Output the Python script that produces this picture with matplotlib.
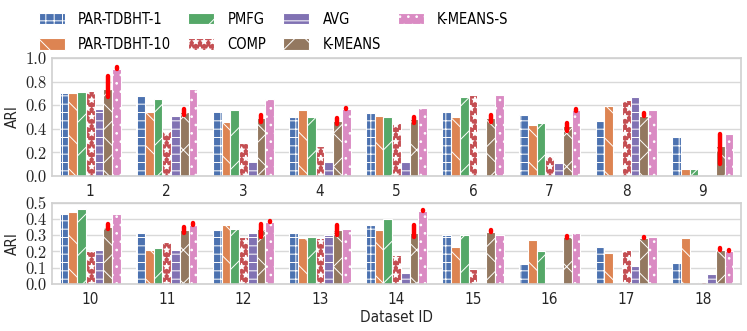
import numpy as np
import matplotlib
matplotlib.use("Agg")
import matplotlib.pyplot as plt
from matplotlib.ticker import FuncFormatter

plt.rcParams['font.family'] = ['DejaVu Sans']
plt.rcParams['font.stretch'] = 'condensed'
plt.rcParams['hatch.color'] = 'white'
plt.rcParams['hatch.linewidth'] = 0.7

methods = ['PAR-TDBHT-1', 'PAR-TDBHT-10', 'PMFG', 'COMP', 'AVG', 'K-MEANS', 'K-MEANS-S']
colors = ['#4C72B0', '#DD8452', '#55A868', '#C44E52', '#8172B3', '#937860', '#DA8BC3']
hatches = ['++', '\\', '/', '**', '--', 'x', '..']

top_ids = ['1', '2', '3', '4', '5', '6', '7', '8', '9']
bot_ids = ['10', '11', '12', '13', '14', '15', '16', '17', '18']

# ARI per method, datasets 1-9
top_vals = {
    'PAR-TDBHT-1':  [0.70, 0.68, 0.55, 0.50, 0.53, 0.54, 0.52, 0.47, 0.33],
    'PAR-TDBHT-10': [0.70, 0.54, 0.46, 0.56, 0.51, 0.50, 0.43, 0.59, 0.06],
    'PMFG':         [0.71, 0.65, 0.56, 0.50, 0.50, 0.67, 0.45, 0.00, 0.06],
    'COMP':         [0.72, 0.38, 0.28, 0.25, 0.45, 0.69, 0.17, 0.64, 0.00],
    'AVG':          [0.57, 0.51, 0.13, 0.12, 0.12, 0.00, 0.11, 0.67, 0.00],
    'K-MEANS':      [0.74, 0.54, 0.49, 0.47, 0.48, 0.49, 0.42, 0.51, 0.25],
    'K-MEANS-S':    [0.91, 0.74, 0.65, 0.57, 0.58, 0.69, 0.56, 0.56, 0.36],
}
# ARI per method, datasets 10-18
bot_vals = {
    'PAR-TDBHT-1':  [0.43, 0.31, 0.33, 0.31, 0.36, 0.30, 0.12, 0.23, 0.13],
    'PAR-TDBHT-10': [0.44, 0.21, 0.36, 0.28, 0.33, 0.23, 0.27, 0.19, 0.28],
    'PMFG':         [0.46, 0.22, 0.34, 0.29, 0.40, 0.30, 0.20, 0.00, 0.00],
    'COMP':         [0.20, 0.26, 0.29, 0.28, 0.18, 0.09, 0.00, 0.21, 0.01],
    'AVG':          [0.21, 0.21, 0.31, 0.30, 0.07, 0.00, 0.00, 0.11, 0.06],
    'K-MEANS':      [0.35, 0.33, 0.34, 0.33, 0.31, 0.32, 0.29, 0.28, 0.21],
    'K-MEANS-S':    [0.43, 0.36, 0.38, 0.34, 0.45, 0.30, 0.31, 0.29, 0.20],
}

# confidence intervals (low, high) for the randomized methods; nan = none drawn
top_ci = {
    'K-MEANS':   ([0.67, 0.52, 0.46, 0.44, 0.45, 0.46, 0.38, 0.51, 0.10],
                  [0.85, 0.57, 0.52, 0.49, 0.50, 0.52, 0.45, 0.53, 0.36]),
    'K-MEANS-S': ([0.91, np.nan, np.nan, 0.57, np.nan, np.nan, 0.555, np.nan, np.nan],
                  [0.92, np.nan, np.nan, 0.58, np.nan, np.nan, 0.565, np.nan, np.nan]),
}
bot_ci = {
    'K-MEANS':   ([0.34, 0.31, 0.29, 0.30, 0.29, 0.32, 0.285, 0.28, 0.21],
                  [0.37, 0.35, 0.37, 0.36, 0.36, 0.33, 0.295, 0.29, 0.22]),
    'K-MEANS-S': ([np.nan, 0.365, 0.38, np.nan, 0.448, np.nan, np.nan, np.nan, 0.20],
                  [np.nan, 0.375, 0.385, np.nan, 0.455, np.nan, np.nan, np.nan, 0.21]),
}

fig = plt.figure(figsize=(7.47, 3.31), dpi=100)
ax1 = fig.add_axes([0.0696, 0.4683, 0.9224, 0.3565])
ax2 = fig.add_axes([0.0696, 0.142, 0.9224, 0.2462])

width = 0.8 / len(methods)


def draw(ax, ids, vals, ci, ymax, step):
    x = np.arange(len(ids))
    for i, m in enumerate(methods):
        pos = x - 0.4 + width * (i + 0.5)
        ax.bar(pos, vals[m], width, color=colors[i], hatch=hatches[i],
               edgecolor='white', linewidth=0.8, label=m, zorder=2)
        if m in ci:
            lo, hi = np.array(ci[m][0]), np.array(ci[m][1])
            for p, a, b in zip(pos, lo, hi):
                if np.isnan(a):
                    continue
                ax.plot([p, p], [a, b], color='red', lw=3.2,
                        solid_capstyle='round', zorder=3)
    ax.set_xlim(-0.5, len(ids) - 0.5)
    ax.set_ylim(0, ymax)
    ax.set_yticks(np.arange(0, ymax + 1e-9, step))
    ax.yaxis.set_major_formatter(FuncFormatter(lambda v, p: '%.1f' % v))
    ax.set_xticks(x)
    ax.set_xticklabels(ids)
    for lab in ax.get_yticklabels():
        lab.set_fontfamily('cmr10')
        lab.set_fontsize(12)
    ax.grid(axis='y', color='#d9d9d9', lw=1, zorder=0)
    ax.set_axisbelow(True)
    for s in ax.spines.values():
        s.set_color('#d0d0d0')
        s.set_linewidth(1.2)
    ax.tick_params(axis='x', length=0, labelsize=11, colors='#262626', pad=6)
    ax.tick_params(axis='y', length=0, colors='#262626', pad=4)
    ax.set_ylabel('ARI', fontsize=11, color='#262626', labelpad=4)


draw(ax1, top_ids, top_vals, top_ci, 1.0, 0.2)
draw(ax2, bot_ids, bot_vals, bot_ci, 0.5, 0.1)
ax2.set_xlabel('Dataset ID', fontsize=11, color='#262626', labelpad=2)

handles, labels = ax1.get_legend_handles_labels()
fig.legend(handles, labels, loc='upper left', ncol=4, frameon=False,
           bbox_to_anchor=(0.052, 0.965), fontsize=10.5, handlelength=1.8,
           handleheight=0.85, handletextpad=0.9, columnspacing=1.15,
           labelspacing=0.72, borderaxespad=0, borderpad=0)

fig.savefig('out.png', dpi=100)
